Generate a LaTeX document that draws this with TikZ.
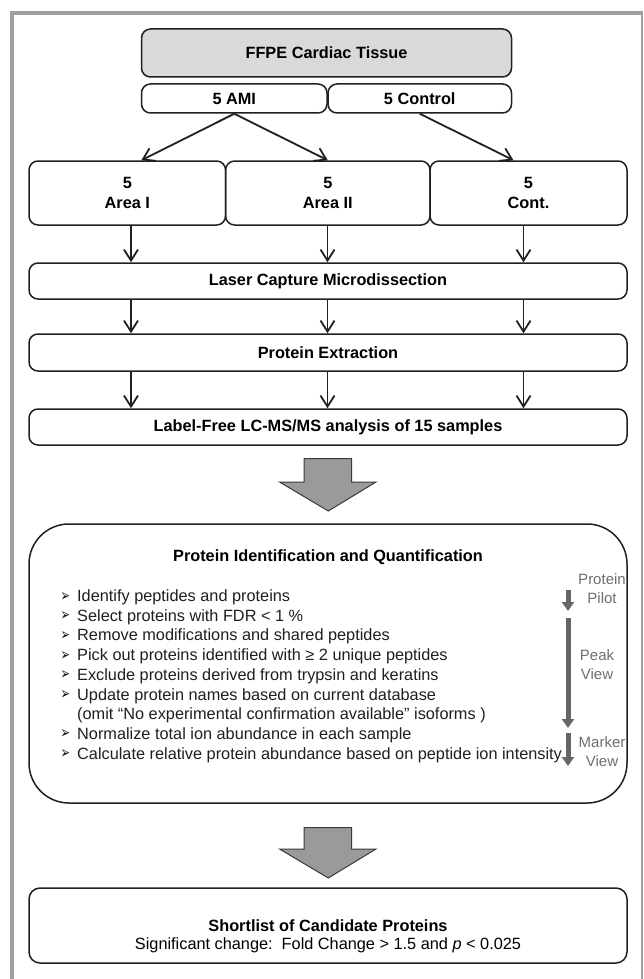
\documentclass[tikz,border=0pt]{standalone}
\usepackage{fontspec}
\usepackage{graphicx}
\setmainfont{Liberation Sans}
\newfontfamily\djv{DejaVu Sans}
\usetikzlibrary{arrows.meta}
\definecolor{boxline}{HTML}{231F20}
\definecolor{framegray}{HTML}{A0A0A0}
\definecolor{ffpefill}{HTML}{D9D9D9}
\definecolor{bigfill}{HTML}{9A9A9A}
\definecolor{bigline}{HTML}{3A3A3A}
\definecolor{sidegray}{HTML}{666666}
\definecolor{sidetxt}{HTML}{6E6E6E}
\newcommand\bmark{\makebox[16.5pt][l]{\raisebox{0.5pt}{\resizebox{9.5pt}{9pt}{\djv ➢}}}}
\begin{document}
\begin{tikzpicture}[x=1pt,y=-1pt,
  box/.style={draw=boxline, line width=1.5pt, rounded corners=9pt, inner sep=0pt, align=center,
    font=\bfseries\fontsize{16.3}{20}\selectfont},
  arr/.style={draw=boxline, line width=1.8pt, -{Straight Barb[length=11pt,width=14pt,line width=1.8pt]}},
  bigarrow/.style={fill=bigfill, draw=bigline, line width=1pt, line join=miter},
  sidearr/.style={draw=sidegray, line width=5pt, -{Triangle[length=9pt,width=12pt]}},
  sidelab/.style={text=sidetxt, font=\fontsize{15}{19}\selectfont, align=center, inner sep=0pt},
  bul/.style={anchor=base west, inner sep=0pt, text=black!88, font=\fontsize{16.3}{20}\selectfont},
  ttl/.style={inner sep=0pt, font=\bfseries\fontsize{16.3}{20}\selectfont, align=center}]
\useasboundingbox (0,0) rectangle (643,979);
% frame
\draw[framegray, line width=4pt] (12,979) -- (12,13);
\draw[framegray, line width=3.5pt] (10,13) -- (643,13);
\draw[framegray, line width=1.5pt] (641.8,13) -- (641.8,979);

% top boxes
\node[box, fill=ffpefill, minimum width=370pt, minimum height=48pt] (ffpe) at (326.5,53) {FFPE Cardiac Tissue};
\node[box, minimum width=185.5pt, minimum height=29pt] (ami) at (234.25,98.5) {5 AMI};
\node[box, minimum width=183.5pt, minimum height=29pt] (ctrl) at (419.75,98.5) {5 Control};

\node[box, minimum width=196.6pt, minimum height=64pt] (areaI) at (127.3,193) {5\\Area I};
\node[box, minimum width=204.4pt, minimum height=64pt] (areaII) at (327.8,193) {5\\Area II};
\node[box, minimum width=197pt, minimum height=64pt] (cont) at (528.5,193) {5\\Cont.};

\node[box, minimum width=598pt, minimum height=36pt] (laser) at (328,281) {Laser Capture Microdissection};
\node[box, minimum width=598pt, minimum height=37pt] (pe) at (328,352.5) {Protein Extraction};
\node[box, minimum width=598pt, minimum height=36pt] (lf) at (328,427) {Label-Free LC-MS/MS analysis of 15 samples};

\coordinate (c1) at (131,0);
\coordinate (c2) at (327.5,0);
\coordinate (c3) at (523.5,0);

\draw[arr] (ami.south) -- ([xshift=14pt]areaI.north);
\draw[arr] (ami.south) -- (areaII.north);
\draw[arr] (ctrl.south) -- ([xshift=-15pt]cont.north);

\draw[arr] (areaI.south -| c1) -- (laser.north -| c1);
\draw[arr] (areaII.south -| c2) -- (laser.north -| c2);
\draw[arr] (cont.south -| c3) -- (laser.north -| c3);
\draw[arr] (laser.south -| c1) -- (pe.north -| c1);
\draw[arr] (laser.south -| c2) -- (pe.north -| c2);
\draw[arr] (laser.south -| c3) -- (pe.north -| c3);
\draw[arr] (pe.south -| c1) -- (lf.north -| c1);
\draw[arr] (pe.south -| c2) -- (lf.north -| c2);
\draw[arr] (pe.south -| c3) -- (lf.north -| c3);

% big arrow 1
\draw[bigarrow] (304,458.5) -- (351.5,458.5) -- (351.5,482) -- (376,482) -- (328.3,511) -- (279.5,482) -- (304,482) -- cycle;

% protein identification box
\node[draw=boxline, line width=1.5pt, rounded corners=40pt, minimum width=598pt, minimum height=279pt, inner sep=0pt] (pid) at (328,663.5) {};
\node[ttl] (pidt) at (328,557) {Protein Identification and Quantification};

\node[bul] (b1) at (60.5,601.5) {\bmark Identify peptides and proteins};
\node[bul] (b2) at (60.5,621.2) {\bmark Select proteins with FDR < 1 \%};
\node[bul] (b3) at (60.5,640.9) {\bmark Remove modifications and shared peptides};
\node[bul] (b4) at (60.5,660.6) {\bmark Pick out proteins identified with ≥ 2 unique peptides};
\node[bul] (b5) at (60.5,680.3) {\bmark Exclude proteins derived from trypsin and keratins};
\node[bul] (b6) at (60.5,700) {\bmark Update protein names based on current database};
\node[bul] (b7) at (60.5,719.7) {\hspace*{16.5pt}(omit “No experimental confirmation available” isoforms )};
\node[bul] (b8) at (60.5,739.4) {\bmark Normalize total ion abundance in each sample};
\node[bul] (b9) at (60.5,759.1) {\bmark Calculate relative protein abundance based on peptide ion intensity};

% side tools
\node[sidelab] (pp) at (602,588.5) {Protein\\Pilot};
\node[sidelab] (pv) at (597,665) {Peak\\View};
\node[sidelab] (mv) at (602,751.5) {Marker\\View};
\coordinate (s1a) at (568,590);
\coordinate (s1b) at (568,611);
\coordinate (s2a) at (568,618);
\coordinate (s2b) at (568,728);
\coordinate (s3a) at (568,733);
\coordinate (s3b) at (568,766);
\draw[sidearr] (s1a) -- (s1b);
\draw[sidearr] (s2a) -- (s2b);
\draw[sidearr] (s3a) -- (s3b);

% big arrow 2
\draw[bigarrow] (304,827.5) -- (351.5,827.5) -- (351.5,849) -- (376,849) -- (328.3,878) -- (279.5,849) -- (304,849) -- cycle;

% shortlist
\node[box, rounded corners=11pt, minimum width=598pt, minimum height=75pt] (short) at (328,925.5) {};
\node[inner sep=0pt, align=center, font=\fontsize{16.3}{18.5}\selectfont] (shortt) at (328,936.5)
  {\textbf{Shortlist of Candidate Proteins}\\Significant change:\ \ Fold Change > 1.5 and \textit{p} < 0.025};
\end{tikzpicture}
\end{document}
